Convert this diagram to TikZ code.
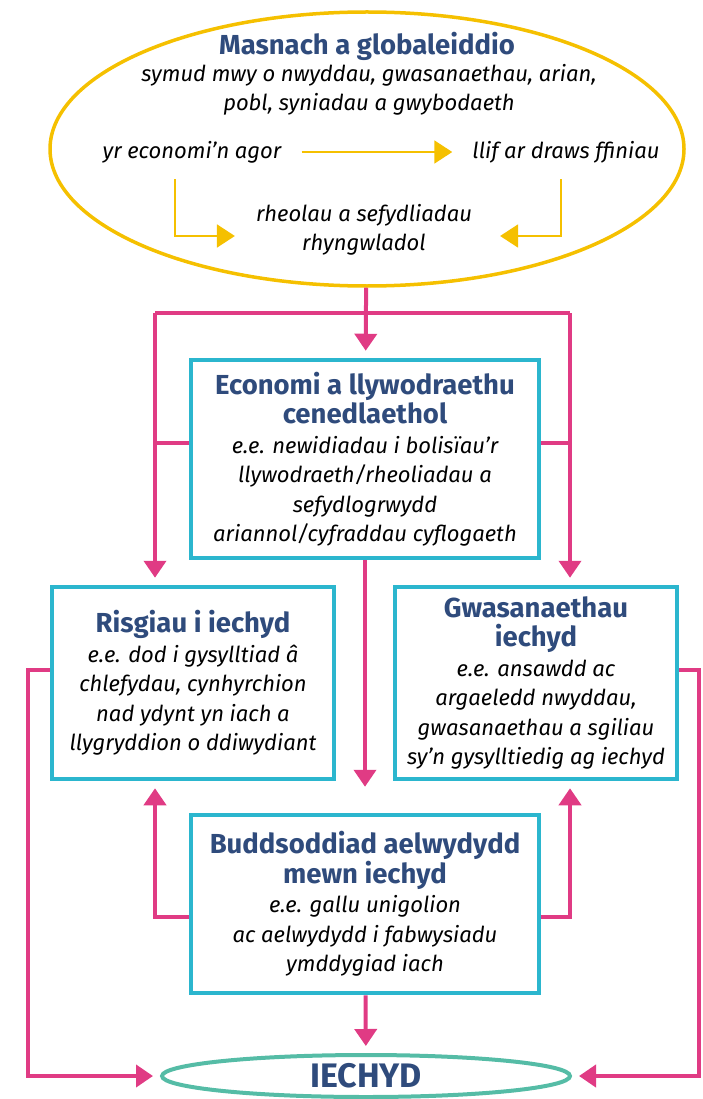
\documentclass[tikz,border=0pt]{standalone}
\usepackage{fontspec}
\setmainfont{Fira Sans}
\usepackage{tikz}
\usetikzlibrary{arrows.meta, positioning, shapes.geometric}
\definecolor{globyellow}{HTML}{F5C000}
\definecolor{linkpink}{HTML}{E03B84}
\definecolor{boxcyan}{HTML}{2BB6CE}
\definecolor{titlenavy}{HTML}{2F4B7C}
\definecolor{healthteal}{HTML}{55BCA6}
\newcommand{\hd}[1]{{\fontsize{27.5}{30}\selectfont\upshape\bfseries\color{titlenavy}#1}}
\tikzset{
	x=1pt, y=-1pt, % work in pixels, y runs downwards
	bodytext/.style={font=\fontsize{22}{29.5}\selectfont\itshape, align=center, inner sep=0pt}, % italic example text
	globoval/.style={ellipse, draw=globyellow, line width=3.5pt, minimum width=634pt, minimum height=274pt, inner sep=0pt}, % the big yellow ellipse
	factorbox/.style={bodytext, rectangle, draw=boxcyan, line width=4.5pt, fill=white}, % the four cyan boxes
	healthoval/.style={ellipse, draw=healthteal, line width=4pt, minimum width=408pt, minimum height=42pt, inner sep=0pt}, % the outcome
	yarrow/.style={draw=globyellow, line width=2pt, -{Triangle[length=18pt, width=23pt]}}, % arrows inside the ellipse
	plink/.style={draw=linkpink, line width=4pt}, % pink lines
	parrow/.style={plink, -{Triangle[length=17pt, width=22pt]}, shorten >=7pt}, % pink arrows
}
\begin{document}
\begin{tikzpicture}
	\useasboundingbox (0,0) rectangle (702,1099);

	% trade and globalisation
	\node[globoval] (glob) at (367,149) {};
	\node[font=\fontsize{27.5}{30}\selectfont\bfseries, text=titlenavy, inner sep=0pt] (masnach) at (367,46) {Masnach a globaleiddio};
	\node[bodytext] (symud) at (369,90) {symud mwy o nwyddau, gwasanaethau, arian,\\pobl, syniadau a gwybodaeth};
	\node[bodytext] (agor) at (192,152) {yr economi’n agor};
	\node[bodytext] (llif) at (566,152) {llif ar draws ffiniau};
	\node[bodytext] (rheol) at (364,230) {rheolau a sefydliadau\\rhyngwladol};
	\draw[yarrow, shorten <=20pt, shorten >=20pt] (agor) -- (llif);
	\draw[yarrow, shorten >=21pt] ([xshift=-17pt, yshift=-16pt]agor.south) |- ([yshift=-6pt]rheol.west);
	\draw[yarrow, shorten >=28pt] ([xshift=-5pt, yshift=-16pt]llif.south) |- ([yshift=-6pt]rheol.east);

	% the four factors
	\node[factorbox, minimum width=348pt, minimum height=198pt] (econ) at (365,459) {\hd{Economi a llywodraethu}\\\hd{cenedlaethol}\\e.e. newidiadau i bolisïau’r\\llywodraeth/rheoliadau a\\sefydlogrwydd\\ariannol/cyfraddau cyflogaeth};
	\node[factorbox, minimum width=282pt, minimum height=192pt] (risg) at (193,683) {\hd{Risgiau i iechyd}\\e.e. dod i gysylltiad â\\chlefydau, cynhyrchion\\nad ydynt yn iach a\\llygryddion o ddiwydiant};
	\node[factorbox, minimum width=282pt, minimum height=192pt] (gwas) at (536,683) {\hd{Gwasanaethau}\\\hd{iechyd}\\e.e. ansawdd ac\\argaeledd nwyddau,\\gwasanaethau a sgiliau\\sy’n gysylltiedig ag iechyd};
	\node[factorbox, minimum width=348pt, minimum height=178pt] (budd) at (365,904) {\hd{Buddsoddiad aelwydydd}\\\hd{mewn iechyd}\\e.e. gallu unigolion\\ac aelwydydd i fabwysiadu\\ymddygiad iach};
	\node[healthoval, font=\fontsize{34}{36}\selectfont\bfseries, text=titlenavy] (iechyd) at (366,1076) {IECHYD};

	\coordinate (forkL) at (155,313);
	\coordinate (forkR) at (570,313);
	\coordinate (outL) at (28,1076);
	\coordinate (outR) at (699,1076);

	\draw[parrow] (glob) -- (econ);
	\draw[plink] (forkL) -- (forkR);
	\draw[parrow] (forkL) -- (forkL |- risg.north);
	\draw[parrow] (forkR) -- (forkR |- gwas.north);
	\draw[plink] ([yshift=16pt]econ.west) -- ([yshift=16pt]econ.west -| forkL);
	\draw[plink] ([yshift=16pt]econ.east) -- ([yshift=16pt]econ.east -| forkR);
	\draw[parrow] (econ) -- ([yshift=19pt]budd.north);
	\draw[parrow] ([yshift=-13pt]budd.west) -| (forkL |- risg.south);
	\draw[parrow] ([yshift=-13pt]budd.east) -| (forkR |- gwas.south);
	\draw[parrow] (budd) -- (iechyd);
	\draw[parrow] ([yshift=13pt]risg.west) -| (outL) -- (iechyd);
	\draw[parrow] ([yshift=13pt]gwas.east) -| (outR) -- (iechyd);
\end{tikzpicture}
\end{document}
